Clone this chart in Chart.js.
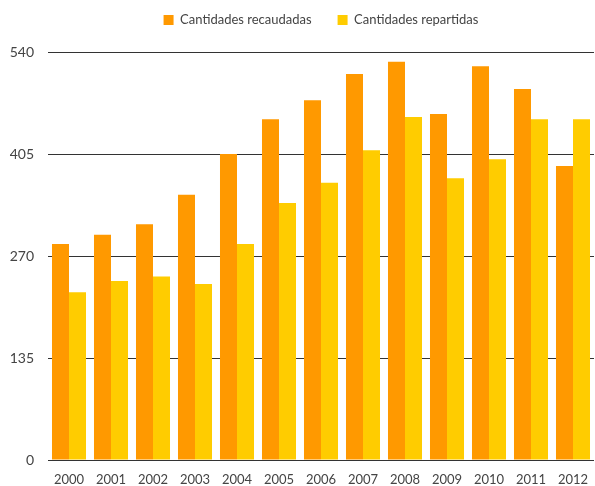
<!DOCTYPE html>
<html>
<head>
<meta charset="utf-8">
<script src="https://cdn.jsdelivr.net/npm/chart.js@4"></script>
<style>
    html, body { margin: 0; padding: 0; background: #fff; }
</style>
</head>
<body>
<canvas id="chart" width="595" height="486"></canvas>
<script>
"use strict"

const years = ['2000', '2001', '2002', '2003', '2004', '2005', '2006',
               '2007', '2008', '2009', '2010', '2011', '2012'];

const recaudadas = [286, 298, 312, 351, 405, 451, 476, 511, 527, 458, 521, 491, 389];

const repartidas = [222, 237, 243, 233, 286, 340, 367, 410, 454, 373, 398, 451, 451];

const yTicks = [0, 135, 270, 405, 540];


window.onload = () =>
{
    bar();
}


// legend items sit high, with a wide gap between them
const legendTweak =
{
    id: 'legendTweak',
    beforeInit(chart)
    {
        const legend = chart.legend;
        const fit = legend.fit;
        const draw = legend.draw;

        legend.fit = function()
        {
            fit.call(this);
            this.height += 3;
        };

        legend.draw = function(area)
        {
            this.ctx.save();
            this.ctx.translate(0, -12.5);
            draw.call(this, area);
            this.ctx.restore();
        };
    }
};


function bar()
{
    Chart.defaults.font.family = 'Lato, "Open Sans", sans-serif';
    Chart.defaults.color = '#444';

    const data =
    {
        labels: years,
        datasets: [{
                    label: 'Cantidades recaudadas',
                    data: recaudadas,
                    backgroundColor: '#ff9900',
                    borderWidth: 0
                   },
                   {
                    label: 'Cantidades repartidas',
                    data: repartidas,
                    backgroundColor: '#ffcc00',
                    borderWidth: 0
                   }]
    };

    const config =
    {
        type: 'bar',
        data: data,
        plugins: [legendTweak],
        options:
        {
            responsive: false,
            animation: false,
            layout: { padding: { left: 0, right: 1, top: 0, bottom: 0 } },
            datasets: { bar: { categoryPercentage: 0.81, barPercentage: 1.0 } },
            plugins:
            {
                legend:
                {
                    position: 'top',
                    fullSize: false,
                    labels:
                    {
                        boxWidth: 10,
                        boxHeight: 10,
                        padding: 26,
                        font: { size: 13 },
                        color: '#444'
                    }
                },
                tooltip: { enabled: false }
            },
            scales:
            {
                x:
                {
                    grid: { display: false, drawTicks: false },
                    border: { display: false },
                    ticks: { font: { size: 13, lineHeight: 1.0 }, padding: 13, maxRotation: 0 },
                    afterFit: (scale) =>
                    {
                        scale.height = 26;
                        scale.paddingLeft = 0;
                        scale.paddingRight = 0;
                    }
                },
                y:
                {
                    min: 0,
                    max: 540,
                    afterBuildTicks: (axis) => { axis.ticks = yTicks.map(v => ({ value: v })); },
                    grid: { color: '#333', lineWidth: 1, drawTicks: false },
                    border: { display: false },
                    ticks: { font: { size: 14 }, padding: 14 },
                    afterFit: (scale) => { scale.width = 48; }
                }
            }
        }
    };

    const myChart = new Chart(document.getElementById('chart').getContext('2d'), config);
}
</script>
</body>
</html>
